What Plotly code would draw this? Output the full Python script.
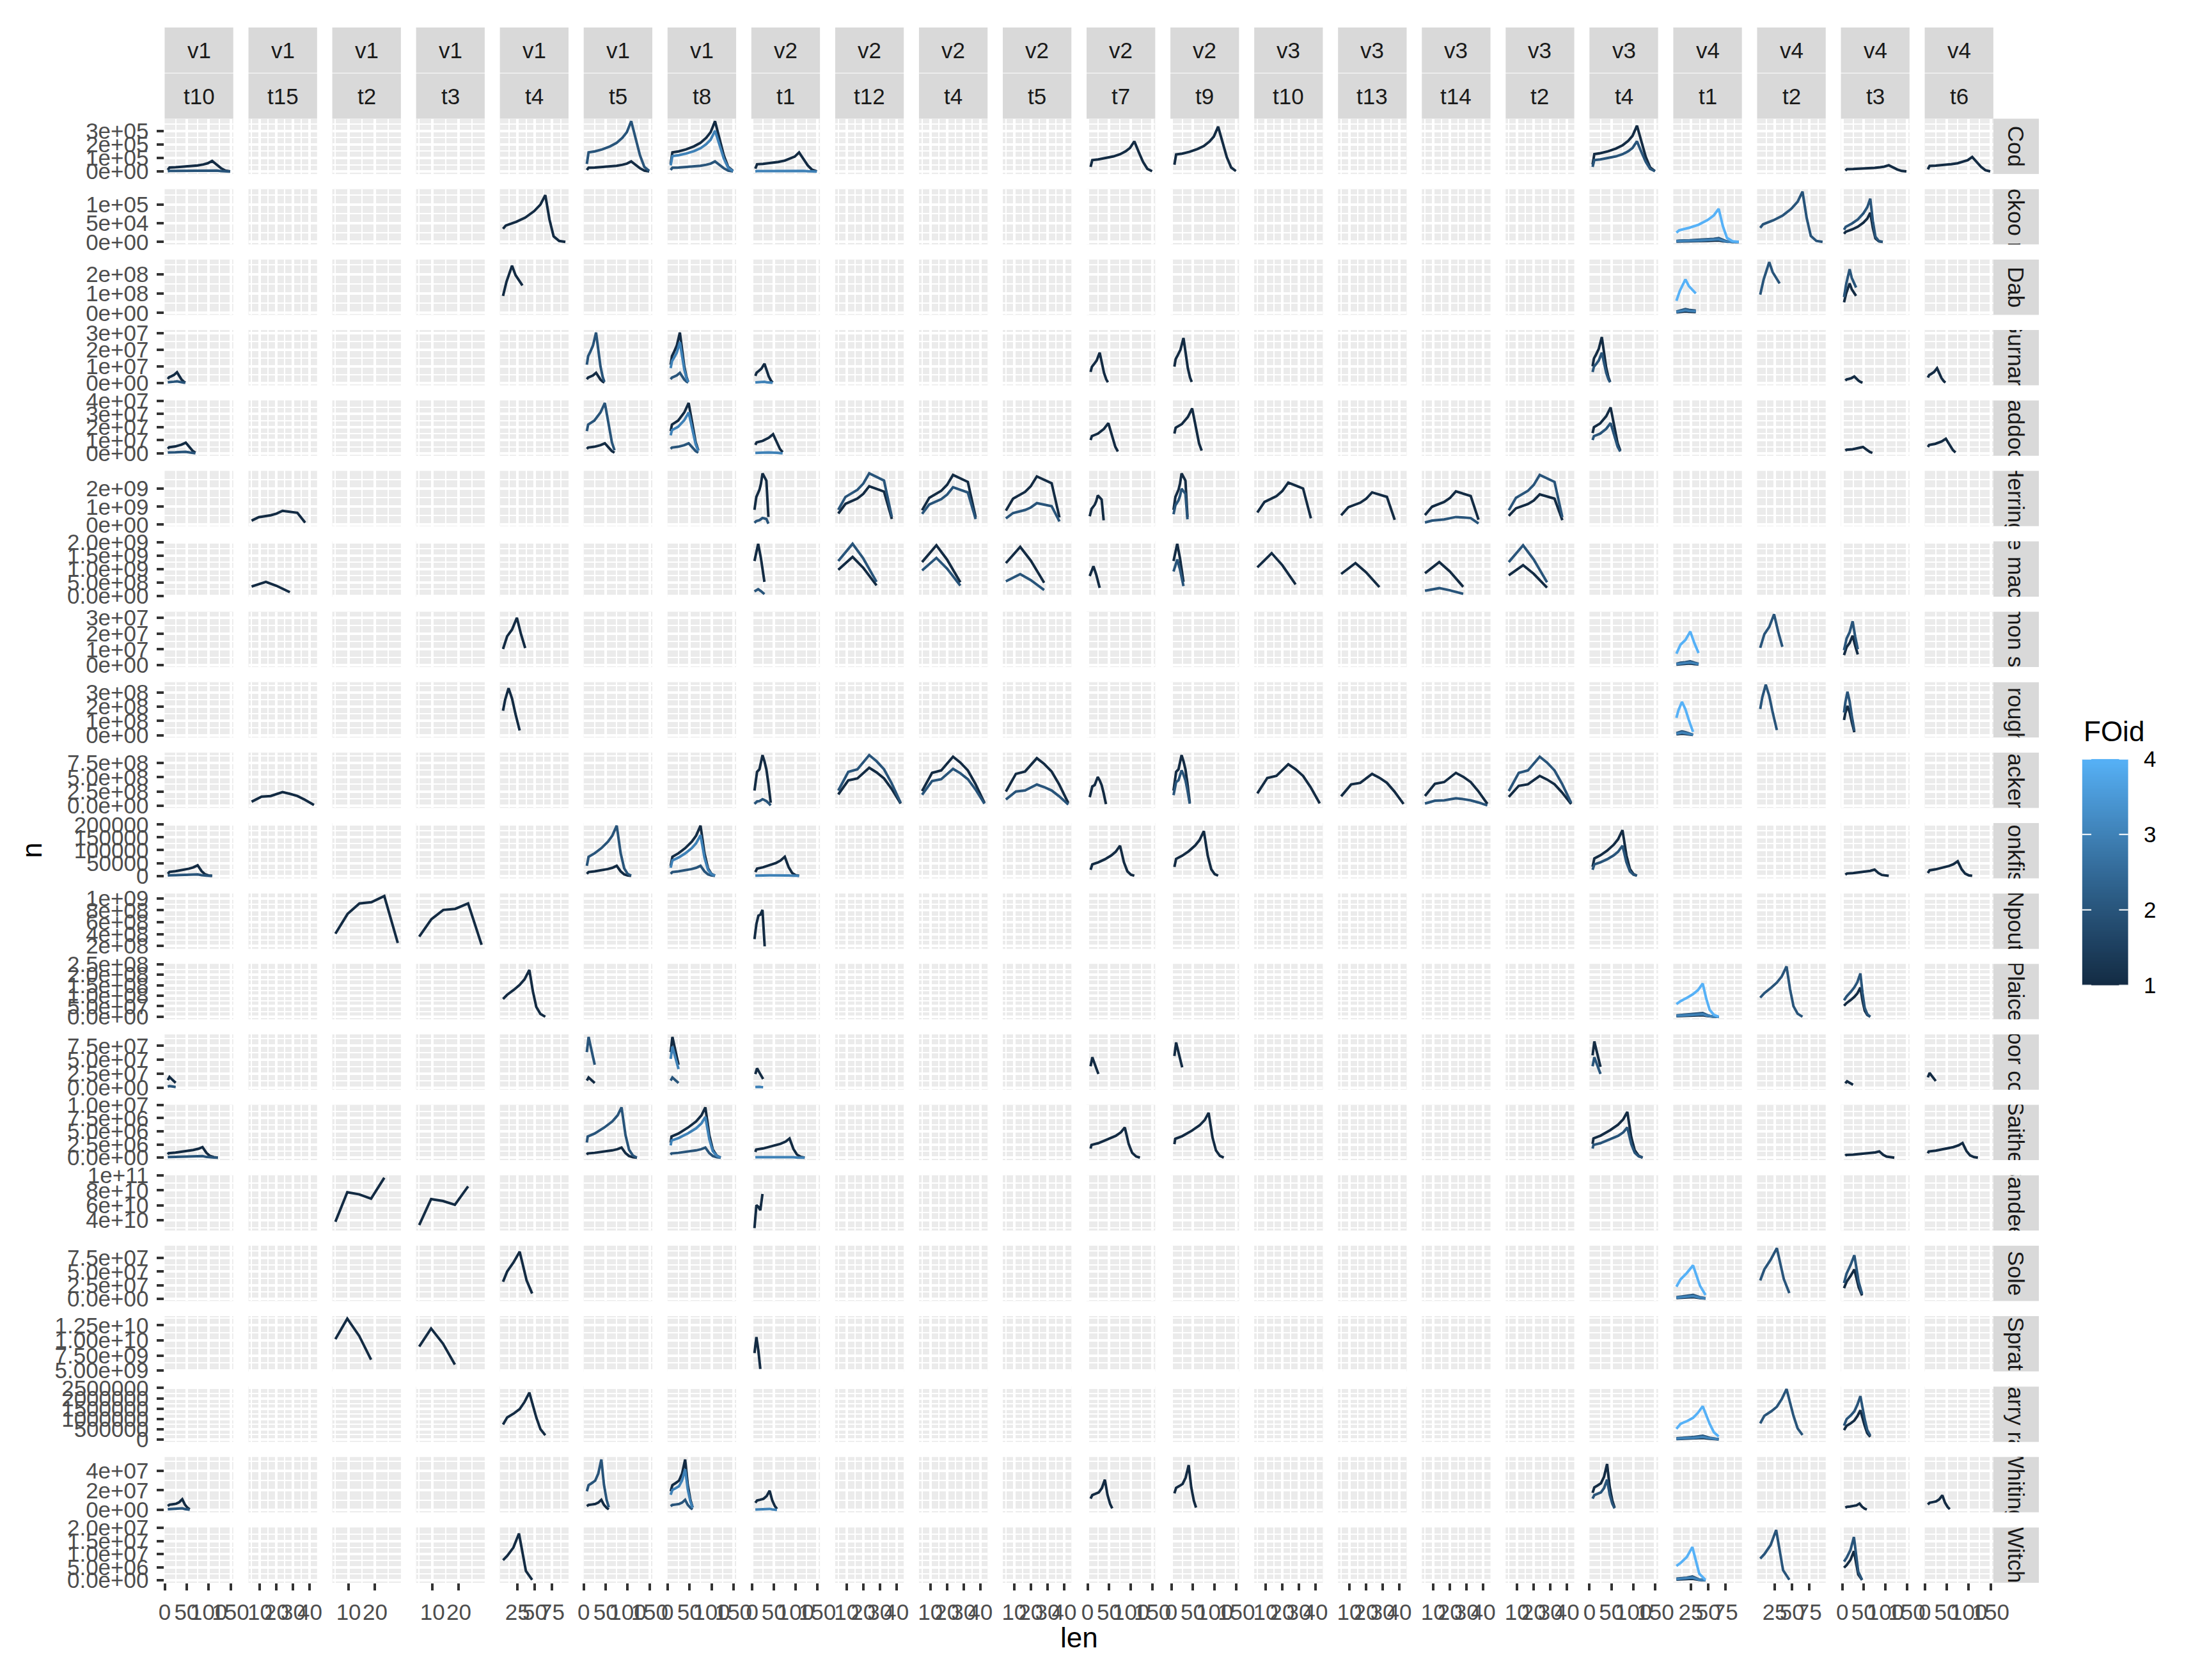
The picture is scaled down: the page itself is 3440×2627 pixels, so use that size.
import plotly.graph_objects as go

W, H = 3440, 2627
FONT = "Liberation Sans, Arial, Helvetica, sans-serif"

# ---------------- facet labels ----------------
COL_V = ["v1", "v1", "v1", "v1", "v1", "v1", "v1", "v2", "v2", "v2", "v2", "v2", "v2",
         "v3", "v3", "v3", "v3", "v3", "v4", "v4", "v4", "v4"]
COL_T = ["t10", "t15", "t2", "t3", "t4", "t5", "t8", "t1", "t12", "t4", "t5", "t7", "t9",
         "t10", "t13", "t14", "t2", "t4", "t1", "t2", "t3", "t6"]
COL_TICKSET = ["A", "C", "D", "D", "B", "A", "A", "A", "C", "C", "C", "A", "A",
               "C", "C", "C", "C", "A", "B", "B", "A", "A"]

SPECIES = ["Cod", "Cuckoo ray", "Dab", "Gurnard", "Haddock", "Herring", "Horse mackerel",
           "Lemon sole", "Long rough dab", "Mackerel", "Monkfish", "Npout", "Plaice",
           "Poor cod", "Saithe", "Sandeel", "Sole", "Sprat", "Starry ray", "Whiting", "Witch"]
SPECIES_GROUP = ["A", "B", "B", "A", "A", "C", "C", "B", "B", "C", "A", "D", "B",
                 "A", "A", "D", "B", "D", "B", "A", "B"]
SPECIES_PEAK = [3.72e5, 1.34e5, 2.64e8, 3.04e7, 3.85e7, 2.85e9, 1.94e9,
                3.22e7, 3.55e8, 8.85e8, 1.96e5, 1.04e9, 2.39e8,
                9.1e7, 9.55e6, 9.7e10, 9.3e7, 1.36e10, 2.45e6, 5.15e7, 1.92e7]

# ---------------- length distributions (len, relative n) ----------------
COD_LEN = [7, 11, 25, 42, 60, 75, 88, 98, 108, 118, 128, 138, 149]
COD_REL = [0.15, 0.38, 0.40, 0.44, 0.50, 0.57, 0.67, 0.78, 1.00, 0.65, 0.32, 0.09, 0.01]
GURNARD_LEN = [7, 10, 15, 21, 28, 33, 38, 43, 47]
GURNARD_REL = [0.36, 0.53, 0.62, 0.74, 1.00, 0.62, 0.33, 0.12, 0.02]
HADDOCK_LEN = [7, 10, 24, 38, 48, 57, 64, 70]
HADDOCK_REL = [0.44, 0.57, 0.65, 0.81, 1.00, 0.55, 0.22, 0.06]
MONKFISH_LEN = [7, 11, 25, 40, 55, 65, 75, 84, 92, 100, 108]
MONKFISH_REL = [0.20, 0.38, 0.45, 0.55, 0.68, 0.80, 1.00, 0.45, 0.15, 0.04, 0.005]
POORCOD_LEN = [7, 11, 16, 20, 25]
POORCOD_REL = [0.70, 1.00, 0.80, 0.62, 0.45]
SAITHE_LEN = [7, 9, 25, 47, 65, 77, 86, 95, 103, 112, 121]
SAITHE_REL = [0.30, 0.42, 0.48, 0.60, 0.72, 0.84, 1.00, 0.45, 0.16, 0.04, 0.00]
WHITING_LEN = [7, 11, 18, 26, 33, 40, 46, 52, 57]
WHITING_REL = [0.37, 0.49, 0.53, 0.58, 0.72, 1.00, 0.50, 0.20, 0.05]

CUCKOO_LEN = [4, 8, 23, 36, 49, 58, 65, 71, 77, 85, 94]
CUCKOO_REL = [0.28, 0.35, 0.43, 0.52, 0.66, 0.80, 1.00, 0.48, 0.12, 0.02, 0.00]
DAB_LEN = [4, 9, 17, 22, 32]
DAB_REL = [0.36, 0.66, 1.00, 0.80, 0.58]
LEMON_LEN = [4, 10, 17, 24, 30, 36]
LEMON_REL = [0.34, 0.61, 0.75, 1.00, 0.65, 0.36]
LRD_LEN = [4, 7, 12, 17, 22, 28]
LRD_REL = [0.52, 0.75, 1.00, 0.78, 0.45, 0.10]
PLAICE_LEN = [4, 10, 20, 28, 35, 42, 47, 52, 58, 65]
PLAICE_REL = [0.38, 0.47, 0.58, 0.68, 0.80, 1.00, 0.55, 0.21, 0.06, 0.00]
SOLE_LEN = [4, 10, 19, 28, 38, 46]
SOLE_REL = [0.36, 0.58, 0.77, 1.00, 0.39, 0.11]
STARRY_LEN = [4, 10, 20, 28, 35, 42, 52, 58, 65]
STARRY_REL = [0.32, 0.47, 0.56, 0.65, 0.80, 1.00, 0.47, 0.22, 0.09]
WITCH_LEN = [4, 10, 19, 27, 37, 46]
WITCH_REL = [0.43, 0.52, 0.70, 1.00, 0.20, 0.01]

HERRING_LEN = [5, 9.3, 16.5, 20, 23.6, 27, 32.5, 37.2]
HERRING_REL = [0.29, 0.54, 0.68, 0.80, 1.00, 0.95, 0.86, 0.15]
HORSEMAC_LEN = [5, 9, 13.6, 20, 24, 28]
HORSEMAC_REL = [0.67, 0.82, 1.00, 0.72, 0.50, 0.27]
MACKEREL_LEN = [5, 11, 16.5, 20, 23.6, 28, 32.5, 37, 42.5]
MACKEREL_REL = [0.30, 0.67, 0.72, 0.85, 1.00, 0.88, 0.72, 0.45, 0.06]

NPOUT_LEN = [5, 9.6, 14.1, 18.6, 23.5, 28.6]
NPOUT_REL = [0.39, 0.71, 0.88, 0.90, 1.00, 0.24]
SANDEEL_LEN = [5, 9.5, 14, 18.5, 23.5]
SANDEEL_REL = [0.39, 0.80, 0.77, 0.71, 1.00]
SPRAT_LEN = [5, 9.5, 14, 18.5]
SPRAT_REL = [0.75, 1.00, 0.79, 0.50]

# ---------------- lines per panel: (column, FOid, share of species peak) ----------------
LINES_A = [(1, 1, 0.21), (1, 2, 0.03), (6, 1, 0.20), (6, 2, 1.00), (7, 1, 1.00), (7, 2, 0.20),
           (7, 3, 0.81), (8, 1, 0.38), (8, 3, 0.02), (12, 1, 0.60), (13, 1, 0.89),
           (18, 1, 0.91), (18, 2, 0.60), (21, 1, 0.125), (22, 1, 0.29)]
LINES_B = [(5, 1, 0.93), (19, 1, 0.03), (19, 2, 0.075), (19, 3, 0.05), (19, 4, 0.66),
           (20, 2, 1.00), (21, 1, 0.58), (21, 2, 0.86)]
LINES_C = [(2, 1, 0.27), (8, 1, 1.00), (8, 2, 0.13), (9, 1, 0.75), (9, 2, 1.00), (10, 1, 0.97),
           (10, 2, 0.73), (11, 1, 0.94), (11, 2, 0.42), (12, 1, 0.57), (13, 1, 1.00),
           (13, 2, 0.70), (14, 1, 0.82), (15, 1, 0.63), (16, 1, 0.65), (16, 2, 0.15),
           (17, 1, 0.59), (17, 2, 0.97)]
LINES_D = [(3, 1, 1.00), (4, 1, 0.88), (8, 1, 0.775)]

# ---------------- tick definitions ----------------
XT_A_VALS, XT_A_TEXT = [0, 50, 100, 150], ["0", "50", "100", "150"]
XT_B_VALS, XT_B_TEXT = [25, 50, 75], ["25", "50", "75"]
XT_C_VALS, XT_C_TEXT = [10, 20, 30, 40], ["10", "20", "30", "40"]
XT_D_VALS, XT_D_TEXT = [10, 20], ["10", "20"]

Y_TICKVALS = [
    [0, 1e5, 2e5, 3e5], [0, 5e4, 1e5], [0, 1e8, 2e8], [0, 1e7, 2e7, 3e7],
    [0, 1e7, 2e7, 3e7, 4e7], [0, 1e9, 2e9], [0, 5e8, 1e9, 1.5e9, 2e9],
    [0, 1e7, 2e7, 3e7], [0, 1e8, 2e8, 3e8], [0, 2.5e8, 5e8, 7.5e8],
    [0, 5e4, 1e5, 1.5e5, 2e5], [2e8, 4e8, 6e8, 8e8, 1e9], [0, 5e7, 1e8, 1.5e8, 2e8, 2.5e8],
    [0, 2.5e7, 5e7, 7.5e7], [0, 2.5e6, 5e6, 7.5e6, 1e7], [4e10, 6e10, 8e10, 1e11],
    [0, 2.5e7, 5e7, 7.5e7], [5e9, 7.5e9, 1e10, 1.25e10], [0, 5e5, 1e6, 1.5e6, 2e6, 2.5e6],
    [0, 2e7, 4e7], [0, 5e6, 1e7, 1.5e7, 2e7]]
Y_TICKTEXT = [
    ["0e+00", "1e+05", "2e+05", "3e+05"], ["0e+00", "5e+04", "1e+05"],
    ["0e+00", "1e+08", "2e+08"], ["0e+00", "1e+07", "2e+07", "3e+07"],
    ["0e+00", "1e+07", "2e+07", "3e+07", "4e+07"], ["0e+00", "1e+09", "2e+09"],
    ["0.0e+00", "5.0e+08", "1.0e+09", "1.5e+09", "2.0e+09"],
    ["0e+00", "1e+07", "2e+07", "3e+07"], ["0e+00", "1e+08", "2e+08", "3e+08"],
    ["0.0e+00", "2.5e+08", "5.0e+08", "7.5e+08"],
    ["0", "50000", "100000", "150000", "200000"],
    ["2e+08", "4e+08", "6e+08", "8e+08", "1e+09"],
    ["0.0e+00", "5.0e+07", "1.0e+08", "1.5e+08", "2.0e+08", "2.5e+08"],
    ["0.0e+00", "2.5e+07", "5.0e+07", "7.5e+07"],
    ["0.0e+00", "2.5e+06", "5.0e+06", "7.5e+06", "1.0e+07"],
    ["4e+10", "6e+10", "8e+10", "1e+11"],
    ["0.0e+00", "2.5e+07", "5.0e+07", "7.5e+07"],
    ["5.00e+09", "7.50e+09", "1.00e+10", "1.25e+10"],
    ["0", "500000", "1000000", "1500000", "2000000", "2500000"],
    ["0e+00", "2e+07", "4e+07"],
    ["0.0e+00", "5.0e+06", "1.0e+07", "1.5e+07", "2.0e+07"]]

FOID_LEVELS = [1, 2, 3, 4]

# ---------------- lookup tables built from the arrays ----------------
SHAPES = {
    "Cod": (COD_LEN, COD_REL), "Gurnard": (GURNARD_LEN, GURNARD_REL),
    "Haddock": (HADDOCK_LEN, HADDOCK_REL), "Monkfish": (MONKFISH_LEN, MONKFISH_REL),
    "Poor cod": (POORCOD_LEN, POORCOD_REL), "Saithe": (SAITHE_LEN, SAITHE_REL),
    "Whiting": (WHITING_LEN, WHITING_REL), "Cuckoo ray": (CUCKOO_LEN, CUCKOO_REL),
    "Dab": (DAB_LEN, DAB_REL), "Lemon sole": (LEMON_LEN, LEMON_REL),
    "Long rough dab": (LRD_LEN, LRD_REL), "Plaice": (PLAICE_LEN, PLAICE_REL),
    "Sole": (SOLE_LEN, SOLE_REL), "Starry ray": (STARRY_LEN, STARRY_REL),
    "Witch": (WITCH_LEN, WITCH_REL), "Herring": (HERRING_LEN, HERRING_REL),
    "Horse mackerel": (HORSEMAC_LEN, HORSEMAC_REL), "Mackerel": (MACKEREL_LEN, MACKEREL_REL),
    "Npout": (NPOUT_LEN, NPOUT_REL), "Sandeel": (SANDEEL_LEN, SANDEEL_REL),
    "Sprat": (SPRAT_LEN, SPRAT_REL)}
LINES = {"A": LINES_A, "B": LINES_B, "C": LINES_C, "D": LINES_D}
XTICKS = {"A": (XT_A_VALS, XT_A_TEXT), "B": (XT_B_VALS, XT_B_TEXT),
          "C": (XT_C_VALS, XT_C_TEXT), "D": (XT_D_VALS, XT_D_TEXT)}

# ---------------- colour scale (ggplot2 default continuous, Lab interpolation) ----------------
LOW, HIGH = (0x13, 0x2B, 0x43), (0x56, 0xB1, 0xF7)


def _lin(c):
    c = c / 255.0
    return c / 12.92 if c <= 0.04045 else ((c + 0.055) / 1.055) ** 2.4


def _gam(c):
    c = max(0.0, min(1.0, c))
    v = 12.92 * c if c <= 0.0031308 else 1.055 * c ** (1 / 2.4) - 0.055
    return int(round(max(0.0, min(1.0, v)) * 255))


def rgb2lab(rgb):
    r, g, b = [_lin(v) for v in rgb]
    X = (0.4124 * r + 0.3576 * g + 0.1805 * b) / 0.95047
    Y = 0.2126 * r + 0.7152 * g + 0.0722 * b
    Z = (0.0193 * r + 0.1192 * g + 0.9505 * b) / 1.08883

    def f(t):
        return t ** (1 / 3) if t > 216 / 24389 else (24389 / 27 * t + 16) / 116
    fx, fy, fz = f(X), f(Y), f(Z)
    return (116 * fy - 16, 500 * (fx - fy), 200 * (fy - fz))


def lab2rgb(lab):
    L, a, b = lab
    fy = (L + 16) / 116
    fx = fy + a / 500
    fz = fy - b / 200

    def fi(t):
        return t ** 3 if t ** 3 > 216 / 24389 else (116 * t - 16) / (24389 / 27)
    X, Y, Z = 0.95047 * fi(fx), fi(fy), 1.08883 * fi(fz)
    r = 3.2406 * X - 1.5372 * Y - 0.4986 * Z
    g = -0.9689 * X + 1.8758 * Y + 0.0415 * Z
    bb = 0.0557 * X - 0.2040 * Y + 1.0570 * Z
    return (_gam(r), _gam(g), _gam(bb))


LAB_LO, LAB_HI = rgb2lab(LOW), rgb2lab(HIGH)


def colour_at(t):
    lab = tuple(LAB_LO[i] + (LAB_HI[i] - LAB_LO[i]) * t for i in range(3))
    r, g, b = lab2rgb(lab)
    return "rgb(%d,%d,%d)" % (r, g, b)


def foid_colour(f):
    return colour_at((f - FOID_LEVELS[0]) / (FOID_LEVELS[-1] - FOID_LEVELS[0]))


COLORSCALE = [[i / 10, colour_at(i / 10)] for i in range(11)]

# ---------------- geometry (pixels) ----------------
P_LEFT, P_W, P_GAP = 250.0, 108.4, 24.0
P_TOP, P_H, R_PITCH = 168.0, 87.8, 111.76
NCOL, NROW = len(COL_V), len(SPECIES)


def col_px(c):
    x0 = P_LEFT + (c - 1) * (P_W + P_GAP)
    return x0, x0 + P_W


def row_px(r):
    y0 = P_TOP + (r - 1) * R_PITCH
    return y0, y0 + P_H


def px2x(px):
    return px / W


def px2y(py):
    return 1 - py / H


def xref(c):
    return "x" if c == 1 else "x%d" % c


def yref(r):
    return "y" if r == 1 else "y%d" % r


def axname(prefix, i):
    return prefix + ("" if i == 1 else str(i))


# ---------------- traces ----------------
traces = []
used = set()
xs_by_col = {c: [] for c in range(1, NCOL + 1)}
ys_by_row = {r: [] for r in range(1, NROW + 1)}
for r, sp in enumerate(SPECIES, start=1):
    lens, rel = SHAPES[sp]
    peak = SPECIES_PEAK[r - 1]
    for col, foid, share in sorted(LINES[SPECIES_GROUP[r - 1]], key=lambda t: (t[0], t[1])):
        n = [peak * share * v for v in rel]
        xs_by_col[col].extend(lens)
        ys_by_row[r].extend(n)
        used.add((r, col))
        traces.append(go.Scatter(x=lens, y=n, mode="lines", xaxis=xref(col), yaxis=yref(r),
                                 line=dict(color=foid_colour(foid), width=4),
                                 showlegend=False, hoverinfo="skip"))

for r in range(1, NROW + 1):
    for c in range(1, NCOL + 1):
        if (r, c) not in used:
            traces.append(go.Scatter(x=[None], y=[None], mode="lines", xaxis=xref(c),
                                     yaxis=yref(r), showlegend=False, hoverinfo="skip"))


def expand(vals):
    lo, hi = min(vals), max(vals)
    s = hi - lo
    return [lo - 0.05 * s, hi + 0.05 * s]


def minor_vals(major, rng):
    step = major[1] - major[0]
    cand = [major[0] - step / 2] + [(a + b) / 2 for a, b in zip(major, major[1:])] + [major[-1] + step / 2]
    return [v for v in cand if rng[0] <= v <= rng[1]]


layout = dict(width=W, height=H, autosize=False, margin=dict(l=0, r=0, t=0, b=0, pad=0),
              paper_bgcolor="white", plot_bgcolor="#EBEBEB", showlegend=False, hovermode=False,
              font=dict(family=FONT, size=35, color="#4D4D4D"))

tickfont = dict(family=FONT, size=35, color="#4D4D4D")
for c in range(1, NCOL + 1):
    x0, x1 = col_px(c)
    rng = expand(xs_by_col[c])
    tv, tt = XTICKS[COL_TICKSET[c - 1]]
    layout[axname("xaxis", c)] = dict(
        domain=[px2x(x0), px2x(x1)], range=rng, anchor="y%d" % NROW,
        tickmode="array", tickvals=tv, ticktext=tt, ticks="outside", ticklen=11,
        tickwidth=3.5, tickcolor="#333333", showgrid=True, gridcolor="white", gridwidth=4,
        minor=dict(tickmode="array", tickvals=minor_vals(tv, rng), showgrid=True,
                   gridcolor="white", gridwidth=2, ticks=""),
        zeroline=False, showline=False, tickfont=tickfont, tickangle=0, fixedrange=True,
        ticklabelstandoff=4)

for r in range(1, NROW + 1):
    y0, y1 = row_px(r)
    rng = expand(ys_by_row[r])
    tv, tt = Y_TICKVALS[r - 1], Y_TICKTEXT[r - 1]
    layout[axname("yaxis", r)] = dict(
        domain=[px2y(y1), px2y(y0)], range=rng, anchor="x",
        tickmode="array", tickvals=tv, ticktext=tt, ticks="outside", ticklen=11,
        tickwidth=3.5, tickcolor="#333333", showgrid=True, gridcolor="white", gridwidth=4,
        minor=dict(tickmode="array", tickvals=minor_vals(tv, rng), showgrid=True,
                   gridcolor="white", gridwidth=2, ticks=""),
        zeroline=False, showline=False, tickfont=tickfont, fixedrange=True,
        ticklabelstandoff=6)

# ---------------- right strips (clipped text via bars in their own small axes) ----------------
SX = NCOL + 1
sx0 = col_px(NCOL)[1]
layout[axname("xaxis", SX)] = dict(domain=[px2x(sx0), px2x(sx0 + 72)], range=[0, 1],
                                   visible=False, anchor="y%d" % (NROW + 1), fixedrange=True)
for r, sp in enumerate(SPECIES, start=1):
    yi = NROW + r
    y0, y1 = row_px(r)
    layout[axname("yaxis", yi)] = dict(domain=[px2y(y1), px2y(y0)], range=[0, 1],
                                       visible=False, anchor="x%d" % SX, fixedrange=True)
    traces.append(go.Bar(x=[0.5], y=[1], width=[1], base=[0], xaxis="x%d" % SX,
                         yaxis="y%d" % yi, marker=dict(color="#D9D9D9", line=dict(width=0)),
                         text=[sp], textposition="inside", insidetextanchor="middle",
                         textangle=90, constraintext="none", cliponaxis=True,
                         insidetextfont=dict(family=FONT, size=35, color="#1A1A1A"),
                         showlegend=False, hoverinfo="skip"))

# ---------------- colour bar legend ----------------
CX = NCOL + 2
CY = 2 * NROW + 1
CB_X0, CB_X1, CB_TOP, CB_BOT = 3279, 3352, 1184, 1543
layout[axname("xaxis", CX)] = dict(domain=[px2x(CB_X0), px2x(CB_X1)], range=[0, 1],
                                   visible=False, anchor="y%d" % CY, fixedrange=True)
layout[axname("yaxis", CY)] = dict(domain=[px2y(CB_BOT), px2y(CB_TOP)],
                                   range=[FOID_LEVELS[0], FOID_LEVELS[-1]],
                                   visible=False, anchor="x%d" % CX, fixedrange=True)
NSTEP = 150
lo_f, hi_f = FOID_LEVELS[0], FOID_LEVELS[-1]
edges = [lo_f + (hi_f - lo_f) * i / NSTEP for i in range(NSTEP + 1)]
mids = [(a + b) / 2 for a, b in zip(edges, edges[1:])]
traces.append(go.Heatmap(x=[0, 1], y=edges, z=[[m] for m in mids], colorscale=COLORSCALE,
                         zmin=lo_f, zmax=hi_f, showscale=False, xaxis="x%d" % CX,
                         yaxis="y%d" % CY, hoverinfo="skip"))

shapes = []
annotations = []
for f in FOID_LEVELS:
    for a, b in [(0, 0.2), (0.8, 1.0)]:
        shapes.append(dict(type="line", xref="x%d" % CX, yref="y%d" % CY, x0=a, x1=b, y0=f, y1=f,
                           line=dict(color="white", width=2)))
    ypx = CB_BOT - (f - lo_f) / (hi_f - lo_f) * (CB_BOT - CB_TOP)
    annotations.append(dict(text=str(f), x=px2x(3374), y=px2y(ypx), xref="paper", yref="paper",
                            xanchor="left", yanchor="middle", showarrow=False,
                            font=dict(family=FONT, size=35, color="black")))
annotations.append(dict(text="FOid", x=px2x(3279), y=px2y(1140), xref="paper", yref="paper",
                        xanchor="left", yanchor="middle", showarrow=False,
                        font=dict(family=FONT, size=44, color="black")))

# ---------------- top strips ----------------
ST1_TOP, ST_MID, ST2_BOT = 23.3, 95.6, P_TOP
for c in range(1, NCOL + 1):
    x0, x1 = col_px(c)
    for (ya, yb), lab in [((ST1_TOP, ST_MID - 0.5), COL_V[c - 1]), ((ST_MID + 0.5, ST2_BOT), COL_T[c - 1])]:
        shapes.append(dict(type="rect", xref="paper", yref="paper", x0=px2x(x0), x1=px2x(x1),
                           y0=px2y(yb), y1=px2y(ya), fillcolor="#D9D9D9", line=dict(width=0),
                           layer="below"))
        annotations.append(dict(text=lab, x=px2x((x0 + x1) / 2), y=px2y((ya + yb) / 2),
                                xref="paper", yref="paper", xanchor="center", yanchor="middle",
                                showarrow=False, font=dict(family=FONT, size=35, color="#1A1A1A")))

# ---------------- axis titles ----------------
annotations.append(dict(text="len", x=px2x((P_LEFT + col_px(NCOL)[1]) / 2), y=px2y(2578),
                        xref="paper", yref="paper", xanchor="center", yanchor="middle",
                        showarrow=False, font=dict(family=FONT, size=44, color="black")))
annotations.append(dict(text="n", x=px2x(40), y=px2y((P_TOP + row_px(NROW)[1]) / 2),
                        xref="paper", yref="paper", xanchor="center", yanchor="middle",
                        textangle=-90, showarrow=False,
                        font=dict(family=FONT, size=44, color="black")))

layout["shapes"] = shapes
layout["annotations"] = annotations

fig = go.Figure(data=traces, layout=layout)
fig.write_html("out.html", config={"displayModeBar": False})
